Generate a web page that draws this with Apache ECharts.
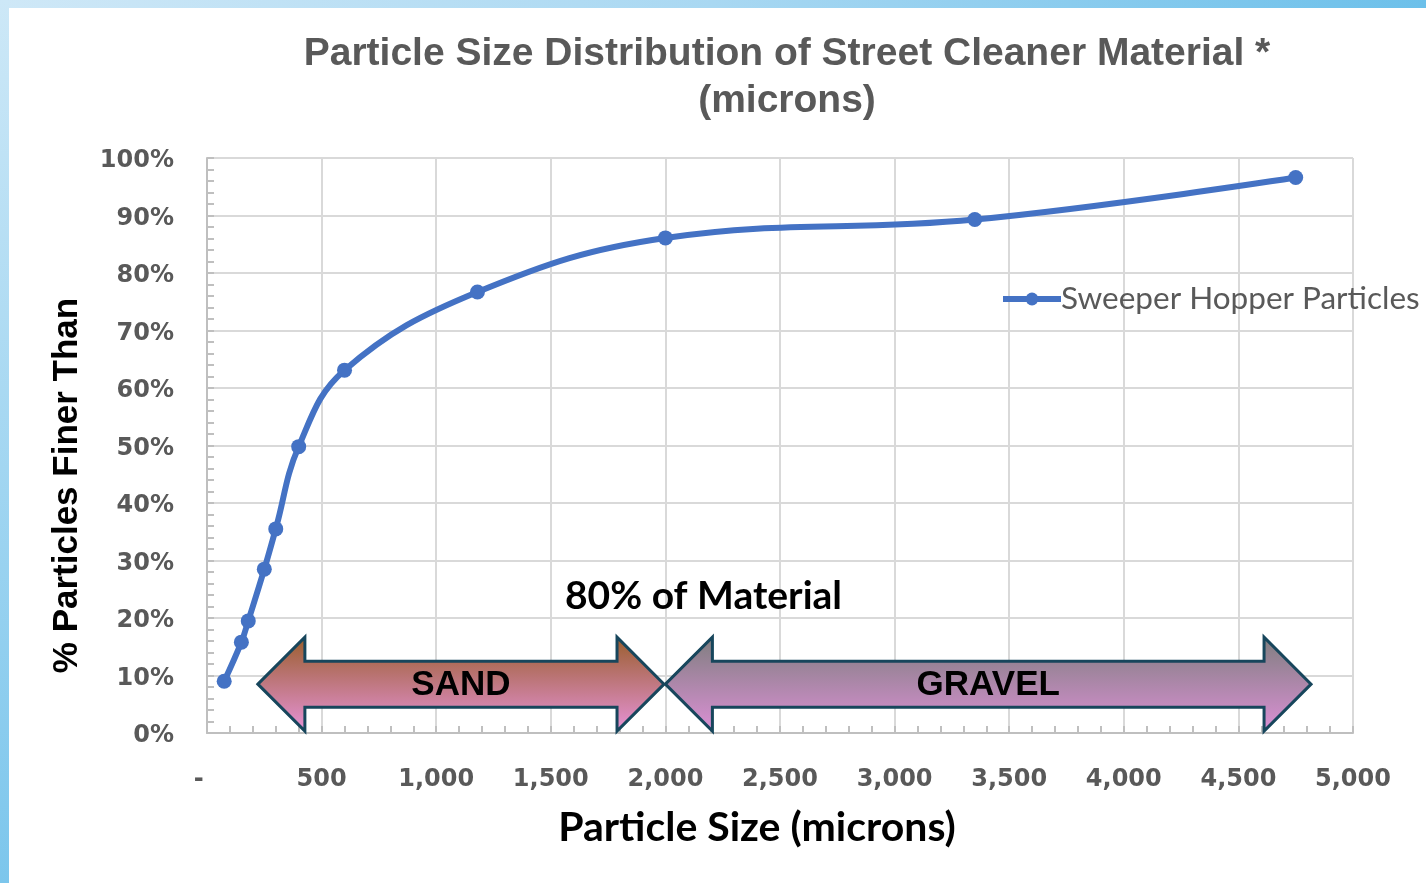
<!DOCTYPE html>
<html>
<head>
<meta charset="utf-8">
<script src="https://cdn.jsdelivr.net/npm/echarts@6/dist/echarts.min.js"></script>
<style>
  html, body { margin: 0; padding: 0; width: 1426px; height: 883px; overflow: hidden; }
  body { background: linear-gradient(90deg, #cfe8f7 0%, #a9d8f2 50%, #6cc0ea 100%); position: relative; }
  #leftstrip { position: absolute; left: 0; top: 0; width: 10px; height: 883px; background: linear-gradient(180deg, #cde8f7 0%, #7cc6ec 100%); }
  #paper { position: absolute; left: 9px; top: 8px; right: 0; bottom: 0; background: #ffffff; }
  #chart { position: absolute; left: 0; top: 0; width: 1426px; height: 883px; }
</style>
</head>
<body>
<div id="leftstrip"></div>
<div id="paper"></div>
<div id="chart"></div>
<script>
// ---- data ----
const particleSize = [75, 150, 180, 250, 300, 400, 600, 1180, 2000, 3350, 4750];
const percentFiner = [9.0, 15.8, 19.5, 28.5, 35.5, 49.8, 63.1, 76.7, 86.1, 89.3, 96.6];
const seriesName = 'Sweeper Hopper Particles';
const rangeNames = ['SAND', 'GRAVEL'];
const rangeStart = [222, 2000];
const rangeEnd = [1994, 4817];
const rangeLevel = [8.5, 8.5];

const lineData = particleSize.map((x, i) => [x, percentFiner[i]]);
const arrowData = rangeNames.map((n, i) => [rangeStart[i], rangeEnd[i], rangeLevel[i], n]);

const arrowFills = {
  SAND: [{ offset: 0, color: '#995d2a' }, { offset: 1, color: '#e793d9' }],
  GRAVEL: [{ offset: 0, color: '#7e7e7e' }, { offset: 1, color: '#dc90d6' }]
};

const chart = echarts.init(document.getElementById('chart'), null, { renderer: 'canvas' });

const grey = '#595959';
const blue = '#4472c4';
const option = {
  backgroundColor: 'transparent',
  animation: false,
  title: {
    text: 'Particle Size Distribution of Street Cleaner Material *\n(microns)',
    left: 782, top: 26, textAlign: 'center',
    textStyle: { fontFamily: 'Liberation Sans', fontWeight: 'bold', fontSize: 39, color: grey, lineHeight: 47 }
  },
  legend: {
    data: [seriesName],
    left: 1000, top: 283, padding: 0,
    itemWidth: 58, itemHeight: 16, itemGap: 4,
    lineStyle: { width: 6 },
    textStyle: { fontFamily: 'Lato', fontSize: 31.5, color: grey, padding: [0, 0, 0, -5] }
  },
  grid: { left: 207, right: 73, top: 158, bottom: 150, containLabel: false },
  xAxis: {
    type: 'value', min: 0, max: 5000, interval: 500,
    name: 'Particle Size (microns)', nameLocation: 'middle', nameGap: 74,
    nameTextStyle: { fontFamily: 'Lato', fontWeight: 'bold', fontSize: 41, color: '#000', padding: [0, 46, 0, 0] },
    axisLine: { show: true, lineStyle: { color: '#bfbfbf', width: 2 } },
    axisTick: { show: true, inside: true, length: 7, lineStyle: { color: '#bfbfbf', width: 2 } },
    minorTick: { show: true, splitNumber: 5, length: 7, lineStyle: { color: '#bfbfbf', width: 2 } },
    splitLine: { show: true, lineStyle: { color: '#d9d9d9', width: 2 } },
    axisLabel: {
      margin: 35, fontFamily: 'DejaVu Sans', fontWeight: 'bold', fontSize: 24, color: grey,
      formatter: v => v === 0 ? '-  ' : v.toLocaleString('en-US')
    }
  },
  yAxis: {
    type: 'value', min: 0, max: 100, interval: 10,
    name: '% Particles Finer Than', nameLocation: 'middle', nameGap: 122,
    nameTextStyle: { fontFamily: 'Liberation Sans', fontWeight: 'bold', fontSize: 35, color: '#000', padding: [0, 80, 0, 0] },
    axisLine: { show: true, lineStyle: { color: '#bfbfbf', width: 2 } },
    axisTick: { show: true, inside: true, length: 7, lineStyle: { color: '#bfbfbf', width: 2 } },
    minorTick: { show: true, splitNumber: 5, length: 7, lineStyle: { color: '#bfbfbf', width: 2 } },
    splitLine: { show: true, lineStyle: { color: '#d9d9d9', width: 2 } },
    axisLabel: {
      margin: 33, fontFamily: 'DejaVu Sans', fontWeight: 'bold', fontSize: 24, color: grey,
      verticalAlign: 'top', lineHeight: 30, padding: [-12, 0, 0, 0],
      formatter: v => v + '%'
    }
  },
  graphic: [{
    type: 'text', left: 565, top: 577, z: 100,
    style: { text: '80% of Material', fontFamily: 'Lato', fontWeight: 'bold', fontSize: 39, fill: '#000' }
  }],
  series: [
    {
      name: seriesName, type: 'line', data: lineData, smooth: 0.4,
      symbol: 'circle', symbolSize: 15,
      lineStyle: { color: blue, width: 6 },
      itemStyle: { color: blue },
      z: 3
    },
    {
      name: 'ranges', type: 'custom', data: arrowData, clip: false, z: 4,
      encode: { x: [0, 1], y: 2 },
      renderItem: function (params, api) {
        const a = api.coord([api.value(0), api.value(2)]);
        const b = api.coord([api.value(1), api.value(2)]);
        const label = rangeNames[params.dataIndex];
        const hl = 47, hh = 47, sh = 23;
        const x0 = a[0], x1 = b[0], yc = a[1];
        const pts = [
          [x0, yc], [x0 + hl, yc - hh], [x0 + hl, yc - sh], [x1 - hl, yc - sh], [x1 - hl, yc - hh],
          [x1, yc], [x1 - hl, yc + hh], [x1 - hl, yc + sh], [x0 + hl, yc + sh], [x0 + hl, yc + hh]
        ];
        return {
          type: 'group',
          children: [{
            type: 'polygon', shape: { points: pts },
            style: {
              fill: new echarts.graphic.LinearGradient(0, 0, 0, 1, arrowFills[label]),
              stroke: '#17465c', lineWidth: 3, lineJoin: 'miter'
            }
          }, {
            type: 'text',
            style: {
              text: label, x: (x0 + x1) / 2, y: yc + 1, align: 'center', verticalAlign: 'middle',
              fontFamily: 'Liberation Sans', fontWeight: 'bold', fontSize: 35, fill: '#000'
            }
          }]
        };
      }
    }
  ]
};
chart.setOption(option);
</script>
</body>
</html>
